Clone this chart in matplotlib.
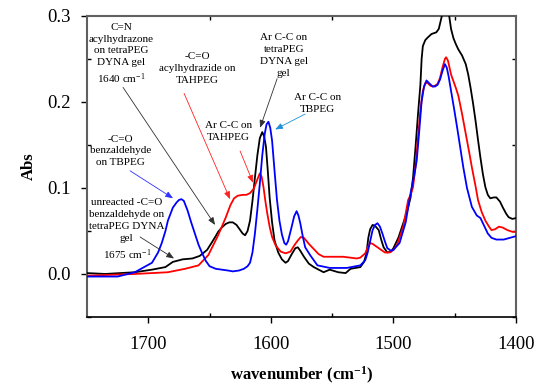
import matplotlib
matplotlib.use("Agg")
import matplotlib.pyplot as plt
from matplotlib.ticker import FixedLocator, FormatStrFormatter

plt.rcParams['font.family'] = ['Liberation Serif', 'DejaVu Serif']
plt.rcParams['mathtext.fontset'] = 'custom'
plt.rcParams['mathtext.rm'] = 'Liberation Serif'
plt.rcParams['mathtext.default'] = 'regular'

# FTIR spectra: wavenumber (cm-1) and absorbance
gel_wn = [1750, 1735, 1711, 1697, 1686, 1680, 1672, 1664, 1658, 1652, 1648, 1645,
          1643, 1640, 1637, 1634, 1631, 1628, 1625, 1623, 1621, 1619, 1617, 1615,
          1613, 1611, 1609, 1607, 1605.5, 1604, 1602.5, 1601, 1599, 1597, 1594, 1591,
          1588, 1586, 1583, 1580, 1578, 1576, 1573, 1569, 1565, 1557, 1552, 1545,
          1539, 1535, 1527, 1524, 1522, 1520.5, 1519, 1517, 1515, 1512, 1510, 1508,
          1505, 1502, 1500, 1496, 1492, 1489, 1486, 1484, 1482, 1480, 1478, 1477,
          1476, 1474, 1472, 1469, 1467, 1465, 1463, 1461, 1459, 1457, 1455, 1453,
          1451, 1449, 1447, 1444, 1441, 1439, 1437, 1435, 1433, 1431, 1429, 1427,
          1425, 1423, 1421, 1418, 1416, 1413, 1411, 1408, 1406, 1403, 1400]
gel_abs = [0.001, 0.000, 0.002, 0.005, 0.008, 0.014, 0.017, 0.018, 0.021, 0.028, 0.037, 0.044,
           0.049, 0.054, 0.058, 0.060, 0.060, 0.057, 0.051, 0.047, 0.045, 0.050, 0.062, 0.085,
           0.112, 0.138, 0.158, 0.165, 0.160, 0.148, 0.120, 0.089, 0.060, 0.039, 0.025, 0.017,
           0.013, 0.015, 0.023, 0.030, 0.031, 0.027, 0.020, 0.012, 0.008, 0.002, 0.005, 0.002,
           0.001, 0.006, 0.008, 0.014, 0.024, 0.042, 0.052, 0.057, 0.056, 0.051, 0.040, 0.031,
           0.025, 0.026, 0.030, 0.042, 0.059, 0.072, 0.089, 0.112, 0.147, 0.185, 0.220, 0.250,
           0.265, 0.272, 0.275, 0.279, 0.280, 0.281, 0.285, 0.297, 0.310, 0.318, 0.305, 0.285,
           0.274, 0.267, 0.261, 0.254, 0.244, 0.232, 0.216, 0.198, 0.178, 0.156, 0.135, 0.116,
           0.101, 0.092, 0.088, 0.089, 0.089, 0.084, 0.078, 0.070, 0.066, 0.064, 0.065]

tahpeg_wn = [1750, 1711, 1684, 1670, 1659, 1651, 1643, 1640, 1637, 1633, 1630, 1627,
             1623, 1620, 1617, 1614, 1611, 1609, 1607.5, 1606, 1604.5, 1603, 1601, 1599,
             1596, 1592, 1588, 1584, 1581, 1578, 1575.5, 1573, 1569, 1565, 1561, 1557,
             1541, 1530, 1527, 1523, 1521, 1519, 1517, 1513, 1510, 1507, 1503, 1500,
             1497, 1492, 1488, 1486, 1484, 1482, 1480, 1478, 1476, 1474, 1472, 1470,
             1468, 1466, 1464, 1462, 1460, 1458, 1457, 1455.5, 1453, 1451, 1449, 1447,
             1444, 1441, 1438, 1436, 1433, 1431, 1428, 1425, 1422, 1420, 1417, 1414,
             1411, 1407, 1403, 1400]
tahpeg_abs = [-0.002, 0.000, 0.002, 0.006, 0.010, 0.022, 0.045, 0.055, 0.065, 0.080, 0.088, 0.091,
              0.092, 0.092, 0.094, 0.099, 0.110, 0.117, 0.113, 0.101, 0.085, 0.071, 0.055, 0.043,
              0.033, 0.026, 0.024, 0.026, 0.033, 0.039, 0.043, 0.042, 0.035, 0.029, 0.023, 0.020,
              0.020, 0.018, 0.019, 0.024, 0.031, 0.036, 0.035, 0.031, 0.028, 0.025, 0.025, 0.028,
              0.034, 0.055, 0.086, 0.092, 0.101, 0.125, 0.158, 0.190, 0.213, 0.222, 0.222, 0.219,
              0.218, 0.219, 0.221, 0.228, 0.240, 0.250, 0.252, 0.248, 0.232, 0.224, 0.216, 0.207,
              0.186, 0.163, 0.140, 0.124, 0.102, 0.086, 0.072, 0.062, 0.055, 0.051, 0.052, 0.055,
              0.054, 0.051, 0.049, 0.049]

tbpeg_wn = [1750, 1725, 1711, 1697, 1692, 1689, 1686, 1684, 1680, 1677, 1675, 1673,
            1671, 1668, 1665, 1662, 1659, 1656, 1653, 1650, 1645, 1640, 1635, 1631,
            1626, 1622, 1619, 1617, 1615, 1613, 1611, 1609, 1607, 1605, 1603.5, 1602,
            1600.5, 1599, 1597, 1595, 1593, 1591, 1589, 1587.5, 1586, 1583, 1581, 1579,
            1577.5, 1576, 1574, 1572, 1568, 1565, 1562, 1552, 1538, 1527, 1523, 1521,
            1519, 1517, 1515, 1513, 1511, 1509, 1507, 1505, 1502, 1500, 1495, 1490,
            1486, 1483, 1481, 1479, 1477, 1475, 1473, 1471, 1468, 1466, 1464, 1462,
            1460, 1458, 1456.5, 1455, 1453, 1450.5, 1448, 1445.5, 1443, 1440, 1436, 1432,
            1429, 1426, 1423, 1420, 1416, 1410, 1405, 1400]
tbpeg_abs = [-0.003, -0.003, 0.002, 0.013, 0.025, 0.036, 0.050, 0.062, 0.077, 0.083, 0.086, 0.087,
             0.085, 0.074, 0.060, 0.047, 0.034, 0.024, 0.015, 0.009, 0.006, 0.005, 0.004, 0.003,
             0.004, 0.006, 0.009, 0.013, 0.025, 0.047, 0.075, 0.105, 0.138, 0.163, 0.174, 0.177,
             0.170, 0.155, 0.120, 0.086, 0.062, 0.046, 0.036, 0.034, 0.038, 0.055, 0.067, 0.073,
             0.068, 0.059, 0.044, 0.031, 0.022, 0.016, 0.010, 0.007, 0.007, 0.010, 0.016, 0.025,
             0.038, 0.051, 0.057, 0.059, 0.055, 0.047, 0.038, 0.030, 0.027, 0.028, 0.036, 0.060,
             0.094, 0.115, 0.132, 0.165, 0.201, 0.218, 0.225, 0.222, 0.218, 0.218, 0.220, 0.226,
             0.236, 0.244, 0.240, 0.230, 0.213, 0.192, 0.170, 0.147, 0.124, 0.100, 0.078, 0.068,
             0.065, 0.056, 0.047, 0.042, 0.040, 0.040, 0.042, 0.044]

x_major = [1700, 1600, 1500, 1400]
x_minor = [1650, 1550, 1450]
y_major = [0.0, 0.1, 0.2, 0.3]
y_minor = [-0.05, 0.05, 0.15, 0.25]

fig = plt.figure(figsize=(5.36, 3.87), dpi=100)
ax = fig.add_axes([0.1623, 0.181, 0.8004, 0.7777])

ax.plot(gel_wn, gel_abs, color='black', lw=1.3, zorder=3)
ax.plot(tahpeg_wn, tahpeg_abs, color='#ff0000', lw=1.3, zorder=3)
ax.plot(tbpeg_wn, tbpeg_abs, color='#0000ff', lw=1.3, zorder=3)

ax.set_xlim(1750, 1400)
ax.set_ylim(-0.05, 0.3)

ax.xaxis.set_major_locator(FixedLocator(x_major))
ax.xaxis.set_minor_locator(FixedLocator(x_minor))
ax.yaxis.set_major_locator(FixedLocator(y_major))
ax.yaxis.set_minor_locator(FixedLocator(y_minor))
ax.yaxis.set_major_formatter(FormatStrFormatter('%.1f'))

ax.tick_params(axis='x', which='major', direction='out', length=4, width=1,
               bottom=True, top=False, labelsize=13.5, pad=10)
ax.tick_params(axis='x', which='minor', direction='in', length=3, width=1,
               bottom=True, top=True)
ax.tick_params(axis='y', which='major', direction='out', length=4, width=1,
               left=True, right=False, labelsize=13.5, pad=8)
ax.tick_params(axis='y', which='minor', direction='in', length=3, width=1,
               left=True, right=True)

for side in ['left', 'top', 'right']:
    ax.spines[side].set_color('#606060')
    ax.spines[side].set_linewidth(1.5)
ax.spines['bottom'].set_color('black')
ax.spines['bottom'].set_linewidth(1.2)

ax.set_xlabel('wavenumber (cm$^{-1}$)', fontsize=12, fontweight='bold', labelpad=8)
ax.set_ylabel('Abs', fontsize=12, fontweight='bold', labelpad=7)

# peak assignments: (text, text centre, arrow start, arrow tip, colour)
notes = [
    ('C=N\nacylhydrazone\non tetraPEG\nDYNA gel\n1640 cm$^{-1}$', (1722.2, 0.255),
     (1720.6, 0.217), (1645.5, 0.057), '#303030'),
    ('-C=O\nacylhydrazide on\nTAHPEG', (1660.2, 0.239),
     (1670.8, 0.210), (1633.3, 0.087), '#ff2020'),
    ('Ar C-C on\nTAHPEG', (1634.9, 0.166),
     (1625.1, 0.143), (1614.5, 0.106), '#ff2020'),
    ('Ar C-C on\ntetraPEG\nDYNA gel\ngel', (1589.5, 0.254),
     (1594.9, 0.227), (1608.8, 0.170), '#303030'),
    ('Ar C-C on\nTBPEG', (1562.2, 0.198),
     (1572.0, 0.186), (1596.5, 0.168), '#1e90d8'),
    ('-C=O\nbenzaldehyde\non TBPEG', (1722.4, 0.143),
     (1714.9, 0.120), (1679.8, 0.088), '#3030ff'),
    ('unreacted -C=O\nbenzaldehyde on\ntetraPEG DYNA\ngel\n1675 cm$^{-1}$', (1717.5, 0.051),
     (1706.7, 0.043), (1679.0, 0.018), '#303030'),
]
for label, tpos, start, tip, col in notes:
    ax.text(tpos[0], tpos[1], label, ha='center', va='center', fontsize=8,
            linespacing=1.4, zorder=4)
    ax.annotate('', xy=tip, xytext=start,
                arrowprops=dict(arrowstyle='-|>,head_length=0.45,head_width=0.18',
                                color=col, lw=0.6, shrinkA=0, shrinkB=0),
                zorder=4)

fig.savefig('out.png', dpi=100)
